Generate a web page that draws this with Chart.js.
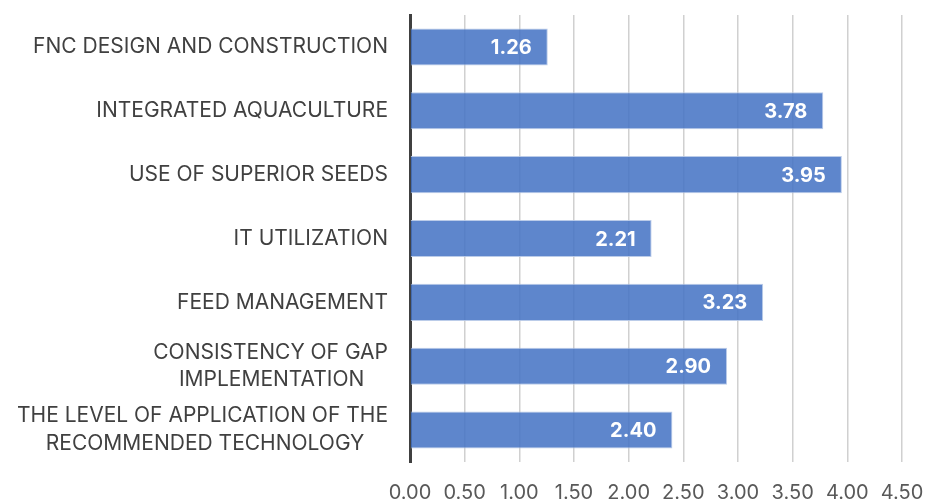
<!DOCTYPE html>
<html>
<head>
<meta charset="utf-8">
<script src="https://cdn.jsdelivr.net/npm/chart.js@4.4.1/dist/chart.umd.min.js"></script>
<style>
  html, body { margin: 0; padding: 0; background: #fff; }
  #wrap { width: 925px; height: 503px; }
</style>
</head>
<body>
<div id="wrap"><canvas id="chart" width="925" height="503"></canvas></div>
<script>
const categories = [
  'FNC DESIGN AND CONSTRUCTION',
  'INTEGRATED AQUACULTURE',
  'USE OF SUPERIOR SEEDS',
  'IT UTILIZATION',
  'FEED MANAGEMENT',
  ['CONSISTENCY OF GAP', 'IMPLEMENTATION    '],
  ['THE LEVEL OF APPLICATION OF THE', 'RECOMMENDED TECHNOLOGY    ']
];
const scores = [1.26, 3.78, 3.95, 2.21, 3.23, 2.90, 2.40];
const xTicks = [0, 0.5, 1, 1.5, 2, 2.5, 3, 3.5, 4, 4.5];

const FONT = 'Inter, "Open Sans", sans-serif';

// white value labels near the end of each bar
const valueLabels = {
  id: 'valueLabels',
  afterDatasetsDraw(chart) {
    const ctx = chart.ctx;
    const meta = chart.getDatasetMeta(0);
    ctx.save();
    ctx.font = 'bold 20px ' + FONT;
    ctx.fillStyle = '#ffffff';
    ctx.textAlign = 'right';
    ctx.textBaseline = 'middle';
    meta.data.forEach((bar, i) => {
      ctx.fillText(scores[i].toFixed(2), bar.x - 16, bar.y + 1);
    });
    ctx.restore();
  }
};

new Chart(document.getElementById('chart'), {
  type: 'bar',
  data: {
    labels: categories,
    datasets: [{
      data: scores,
      backgroundColor: 'rgba(68, 114, 196, 0.86)',
      borderColor: 'rgba(180, 199, 231, 0.9)',
      borderWidth: 1,
      categoryPercentage: 1,
      barPercentage: 0.58
    }]
  },
  options: {
    indexAxis: 'y',
    responsive: false,
    animation: false,
    layout: { padding: { top: 15, right: 23, bottom: 0, left: 0 } },
    plugins: {
      legend: { display: false },
      tooltip: { enabled: false }
    },
    scales: {
      x: {
        min: 0,
        max: 4.5,
        afterBuildTicks: (scale) => { scale.ticks = xTicks.map(v => ({ value: v })); },
        afterFit: (scale) => {
          scale.height = 41;
          scale.paddingLeft = 0;
          scale.paddingRight = 0;
        },
        grid: { color: '#d0d0d0', lineWidth: 1.5, drawTicks: false },
        border: { display: false },
        ticks: {
          padding: 19,
          color: '#595959',
          font: { family: FONT, size: 20 },
          callback: (v) => Number(v).toFixed(2)
        }
      },
      y: {
        afterFit: (scale) => {
          scale.width = 410;
          scale.paddingTop = 0;
          scale.paddingBottom = 0;
        },
        grid: { display: false, drawTicks: false },
        border: { color: '#404040', width: 3 },
        ticks: {
          padding: 22,
          color: '#404040',
          font: { family: FONT, size: 21, lineHeight: 1.33 }
        }
      }
    }
  },
  plugins: [valueLabels]
});
</script>
</body>
</html>
